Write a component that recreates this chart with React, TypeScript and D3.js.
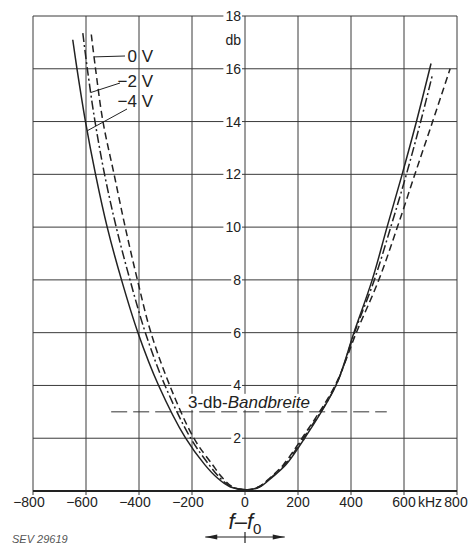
import React from "react";
import * as d3 from "d3";

// frequency offsets (kHz) and attenuation (db)
const solidF = [-650, -634, -602, -564, -520, -466, -404, -326, -224, -152, -105, -55, 10, 55, 100, 155, 225, 343, 411, 480, 536, 593, 647, 702];
const solidDb = [17.1, 16, 14, 12, 10, 8, 6, 4, 2, 1, 0.5, 0.15, 0.05, 0.15, 0.5, 1, 2, 4, 6, 8, 10, 12, 14, 16.2];

const dashDotF = [-612, -595, -566, -530, -486, -434, -376, -302, -205, -136, -95, -50, 10, 52, 97, 150, 220, 343, 413, 488, 550, 609, 663, 708];
const dashDotDb = [17.35, 16, 14, 12, 10, 8, 6, 4, 2, 1, 0.5, 0.15, 0.05, 0.15, 0.5, 1, 2, 4, 6, 8, 10, 12, 14, 15.8];

const dashedF = [-580, -564, -536, -494, -452, -406, -355, -284, -193, -123, -85, -45, 10, 50, 95, 145, 215, 340, 420, 505, 575, 641, 708, 774];
const dashedDb = [17.3, 16, 14, 12, 10, 8, 6, 4, 2, 1, 0.5, 0.15, 0.05, 0.15, 0.5, 1, 2, 4, 6, 8, 10, 12, 14, 16];

const xTicks = [-800, -600, -400, -200, 0, 200, 400, 600, 800];
const yTicks = [2, 4, 6, 8, 10, 12, 14, 16, 18];

const seriesNames = ["0 V", "\u22122 V", "\u22124 V"];
const labelDb = [16.45, 15.1, 13.65]; // where the leader lines touch the curves
const bandDb = 3;
const bandRange = [-505, 535];

const W = 469;
const H = 545;
const ink = "#222";
const font = "'Liberation Sans', Arial, sans-serif";

// f on the left branch of a curve for a given db
function leftF(fs: number[], dbs: number[], db: number) {
  for (let i = 0; i < fs.length - 1; i++) {
    const a = dbs[i], b = dbs[i + 1];
    if ((a - db) * (b - db) <= 0 && fs[i] < 0) {
      const t = (db - a) / (b - a);
      return fs[i] + t * (fs[i + 1] - fs[i]);
    }
  }
  return fs[0];
}

export default function App() {
  const x = d3.scaleLinear().domain([-800, 800]).range([33, 457]);
  const y = d3.scaleLinear().domain([0, 18]).range([491, 16]);

  const line = d3
    .line<[number, number]>()
    .x((d) => x(d[0]))
    .y((d) => y(d[1]))
    .curve(d3.curveCatmullRom.alpha(0.5));

  const curves = [
    { f: dashedF, db: dashedDb, dash: "7 4", width: 1.5 },
    { f: dashDotF, db: dashDotDb, dash: "9 3 2 3", width: 1.5 },
    { f: solidF, db: solidDb, dash: "none", width: 1.5 },
  ];

  const textY = [62, 87, 107];

  return (
    <svg
      width={W}
      height={H}
      style={{ position: "absolute", left: 0, top: 0, background: "#fff" }}
    >
      {/* grid */}
      <g stroke="#3a3a3a" strokeWidth={1}>
        {xTicks.map((t) => (
          <line key={"vx" + t} x1={x(t)} x2={x(t)} y1={y(18)} y2={y(0) + 4} />
        ))}
        {yTicks.map((t) => (
          <line key={"hy" + t} x1={x(-800)} x2={x(800)} y1={y(t)} y2={y(t)} />
        ))}
      </g>
      <line x1={x(-800)} x2={x(800)} y1={y(0)} y2={y(0)} stroke={ink} strokeWidth={2} />

      {/* y labels on the centre line */}
      {yTicks.map((t) => {
        const s = String(t);
        const w = s.length * 7.8;
        return (
          <g key={"yl" + t}>
            <rect x={x(0) - 4 - w - 2} y={y(t) - 6} width={w + 3} height={12} fill="#fff" />
            <text
              x={x(0) - 4}
              y={y(t) + 5}
              textAnchor="end"
              fontFamily={font}
              fontSize={14}
              fill={ink}
            >
              {s}
            </text>
          </g>
        );
      })}
      <text x={x(0) - 4} y={y(18) + 29} textAnchor="end" fontFamily={font} fontSize={14} fill={ink}>
        db
      </text>

      {/* 3 db bandwidth */}
      <line
        x1={x(bandRange[0])}
        x2={x(bandRange[1])}
        y1={y(bandDb)}
        y2={y(bandDb)}
        stroke="#333"
        strokeWidth={1}
        strokeDasharray="16 6"
      />
      <rect x={186} y={y(bandDb) - 18} width={130} height={16} fill="#fff" />
      <text x={188} y={y(bandDb) - 4} fontFamily={font} fontSize={17} fill={ink}>
        3-db-<tspan fontStyle="italic">Bandbreite</tspan>
      </text>

      {/* curves */}
      {curves.map((c, i) => (
        <path
          key={"c" + i}
          d={line(c.f.map((f, j) => [f, c.db[j]] as [number, number])) || ""}
          fill="none"
          stroke={ink}
          strokeWidth={c.width}
          strokeDasharray={c.dash}
        />
      ))}

      {/* curve labels */}
      {curves.map((c, i) => {
        const lx = x(leftF(c.f, c.db, labelDb[i]));
        const ly = y(labelDb[i]);
        const ex = [125, 120, 127][i];
        const ey = [56, 83, 109][i];
        return (
          <g key={"l" + i}>
            <line x1={lx} y1={ly} x2={ex} y2={ey} stroke={ink} strokeWidth={1} />
            <text x={153} y={textY[i]} textAnchor="end" fontFamily={font} fontSize={17} fill={ink}>
              {seriesNames[i]}
            </text>
          </g>
        );
      })}

      {/* x labels */}
      {xTicks.map((t) => {
        const abs = String(Math.abs(t));
        const half = (abs.length * 7.8) / 2;
        if (t < 0) {
          return (
            <text key={"xl" + t} x={x(t) + half} y={507} textAnchor="end" fontFamily={font} fontSize={14} fill={ink}>
              {"\u2212" + abs}
            </text>
          );
        }
        return (
          <text key={"xl" + t} x={x(t) - (t === 800 ? 1 : 0)} y={507} textAnchor="middle" fontFamily={font} fontSize={14} fill={ink}>
            {abs}
          </text>
        );
      })}
      <text x={x(600) + 14} y={507} fontFamily={font} fontSize={14} fill={ink}>
        kHz
      </text>

      {/* axis title */}
      <text x={x(0)} y={529} textAnchor="middle" fontFamily={font} fontSize={22} fontStyle="italic" fill={ink}>
        f{"\u2013"}f<tspan fontSize={15} fontStyle="normal" dy={5}>0</tspan>
      </text>
      <g stroke={ink} strokeWidth={1.2}>
        <line x1={x(-150)} x2={x(150)} y1={537} y2={537} />
        <line x1={x(0)} x2={x(0)} y1={532} y2={543} />
      </g>
      <path d={`M${x(-150)},537 l12,-2.5 l0,5 z`} fill={ink} />
      <path d={`M${x(150)},537 l-12,-2.5 l0,5 z`} fill={ink} />

      <text x={12} y={543} fontFamily={font} fontSize={11} fontStyle="italic" fill="#555">
        SEV 29619
      </text>
    </svg>
  );
}
